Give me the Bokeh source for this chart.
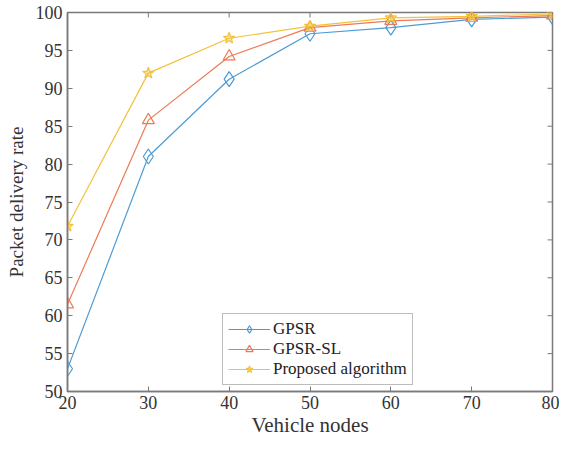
import math
from bokeh.plotting import figure
from bokeh.models import Range1d, Legend, LegendItem, FixedTicker
from bokeh.embed import file_html
from bokeh.resources import INLINE

nodes = [20, 30, 40, 50, 60, 70, 80]
gpsr = [53.0, 81.0, 91.2, 97.2, 98.0, 99.1, 99.4]
gpsr_sl = [61.5, 85.8, 94.2, 98.0, 98.9, 99.3, 99.6]
proposed = [71.8, 92.0, 96.6, 98.2, 99.3, 99.5, 99.8]
names = ["GPSR", "GPSR-SL", "Proposed algorithm"]
x_ticks = [20, 30, 40, 50, 60, 70, 80]
y_ticks = [50, 55, 60, 65, 70, 75, 80, 85, 90, 95, 100]

FONT = "Liberation Serif"
AX = "#7a7a7a"

p = figure(width=559, height=439, output_backend="svg", toolbar_location=None,
           x_range=Range1d(20, 80), y_range=Range1d(50, 100),
           min_border_left=67, min_border_right=7, min_border_top=12, min_border_bottom=40)
p.background_fill_color = "white"
p.border_fill_color = "white"
p.grid.visible = False
p.outline_line_color = AX
p.outline_line_width = 1.5

for ax in (p.xaxis[0], p.yaxis[0]):
    ax.axis_line_color = AX
    ax.axis_line_width = 1.5
    ax.major_tick_line_color = AX
    ax.major_tick_in = 5
    ax.major_tick_out = 0
    ax.minor_tick_line_color = None
    ax.major_label_text_font = FONT
    ax.major_label_text_font_size = "18px"
    ax.major_label_text_color = "#333333"
    ax.axis_label_text_font = FONT
    ax.axis_label_text_font_style = "normal"
    ax.axis_label_text_color = "#333333"

p.xaxis[0].ticker = FixedTicker(ticks=x_ticks)
p.yaxis[0].ticker = FixedTicker(ticks=y_ticks)
p.xaxis[0].axis_label = "Vehicle nodes"
p.yaxis[0].axis_label = "Packet delivery rate"
p.xaxis[0].axis_label_text_font_size = "21px"
p.yaxis[0].axis_label_text_font_size = "19px"
p.xaxis[0].major_label_standoff = 4
p.yaxis[0].major_label_standoff = 5
p.xaxis[0].axis_label_standoff = 1
p.yaxis[0].axis_label_standoff = 6

# inward ticks on the top and right edges of the box
p.ray(x=x_ticks, y=[100] * len(x_ticks), length=5, length_units="screen",
      angle=-math.pi / 2, line_color=AX, line_width=1)
p.ray(x=[80] * len(y_ticks), y=y_ticks, length=5, length_units="screen",
      angle=math.pi, line_color=AX, line_width=1)

c_blue = "#4d9bd6"
c_orange = "#ec7a55"
c_yellow = "#f2c23c"

l1 = p.line(nodes, gpsr, line_color=c_blue, line_width=1.2)
m1 = p.scatter(nodes, gpsr, marker="diamond", size=15, line_color=c_blue, fill_color=None, line_width=1.2)
l2 = p.line(nodes, gpsr_sl, line_color=c_orange, line_width=1.2)
m2 = p.scatter(nodes, gpsr_sl, marker="triangle", size=12, line_color=c_orange, fill_color=None, line_width=1.2)
l3 = p.line(nodes, proposed, line_color=c_yellow, line_width=1.2)
m3 = p.scatter(nodes, proposed, marker="star", size=12, line_color=c_yellow, fill_color=c_yellow,
               fill_alpha=0.4, line_width=1.2)

legend = Legend(items=[LegendItem(label=names[0], renderers=[l1, m1]),
                       LegendItem(label=names[1], renderers=[l2, m2]),
                       LegendItem(label=names[2], renderers=[l3, m3])],
                location=(155, 6))
legend.label_text_font = FONT
legend.label_text_font_size = "17px"
legend.label_text_color = "#222222"
legend.glyph_width = 42
legend.glyph_height = 18
legend.label_height = 18
legend.spacing = 0
legend.padding = 5
legend.margin = 0
legend.label_standoff = 3
legend.border_line_color = AX
legend.border_line_width = 1.2
legend.background_fill_alpha = 1
p.add_layout(legend, "center")

open("out.html", "w").write(file_html(p, INLINE))
